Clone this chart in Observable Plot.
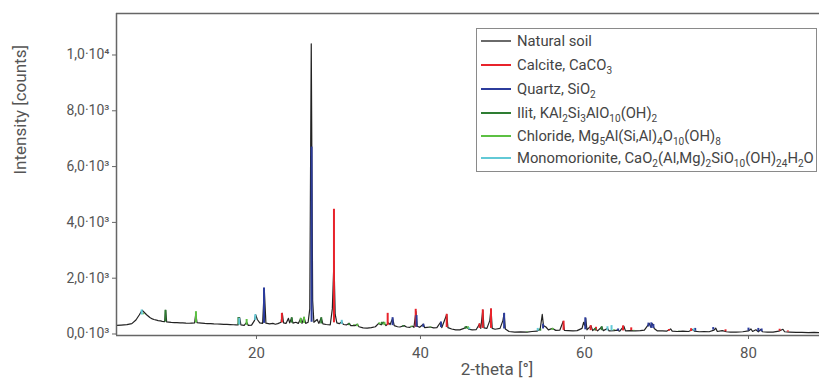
<!DOCTYPE html>
<html><head><meta charset="utf-8">
<script src="https://cdn.jsdelivr.net/npm/d3@7"></script>
<script src="https://cdn.jsdelivr.net/npm/@observablehq/plot@0.6"></script>
<style>
body{margin:0;background:#fff;font-family:Roboto,"Noto Sans",sans-serif}
#wrap{position:relative;width:819px;height:385px}
#legend{position:absolute;left:476px;top:28px;width:341px;height:144px;border:1.5px solid #8a8a8a;background:#fff;box-sizing:border-box}
.row{position:absolute;left:0;height:20px;display:flex;align-items:center;font-size:14.8px;color:#444;white-space:nowrap}
.sw{width:30px;height:0;border-top:2px solid;margin-left:4px;margin-right:6px}
sub{font-size:0.68em;vertical-align:-0.35em;line-height:0}
</style></head><body><div id="wrap"><div id="legend"></div></div>
<script>
// ---- data ----
const seriesNames = ["Natural soil","Calcite, CaCO<sub>3</sub>","Quartz, SiO<sub>2</sub>",
  "Ilit, KAl<sub>2</sub>Si<sub>3</sub>AlO<sub>10</sub>(OH)<sub>2</sub>",
  "Chloride, Mg<sub>5</sub>Al(Si,Al)<sub>4</sub>O<sub>10</sub>(OH)<sub>8</sub>",
  "Monomorionite, CaO<sub>2</sub>(Al,Mg)<sub>2</sub>SiO<sub>10</sub>(OH)<sub>24</sub>H<sub>2</sub>O"];
const seriesColors = ["#6a6a6a","#e8232b","#2c3c9c","#2e7d32","#5cc043","#62c9d6"];
const yTicks = [0,2000,4000,6000,8000,10000];
const yTickLabels = ["0,0·10³","2,0·10³","4,0·10³","6,0·10³","8,0·10³","1,0·10⁴"];
const xTicks = [20,40,60,80];

// natural soil pattern [2-theta, counts]
const soil = [[2.95,310],[3.5,320],[4.2,335],[4.8,370],[5.3,500],[5.7,680],[6.05,850],[6.3,780],[6.6,690],[7.0,590],[7.3,540],[7.5,520],[7.8,500],[8.0,480],[8.3,470],[8.5,455],[8.8,440],[8.92,850],[9.05,430],[9.3,425],[9.6,415],[10.0,410],[10.3,405],[10.7,400],[11.0,398],[11.4,390],[11.8,385],[12.1,390],[12.45,395],[12.6,720],[12.75,410],[13.0,395],[13.3,390],[13.7,380],[14.0,375],[14.4,370],[14.8,362],[15.2,358],[15.6,352],[16.0,348],[16.4,342],[16.8,336],[17.2,332],[17.5,328],[17.75,322],[17.95,590],[18.1,325],[18.5,312],[18.8,420],[19.0,310],[19.4,320],[19.75,480],[19.9,690],[20.1,520],[20.4,400],[20.75,380],[20.95,1620],[21.15,390],[21.6,365],[22.0,380],[22.3,350],[22.6,370],[23.0,420],[23.15,740],[23.3,400],[23.6,380],[23.9,560],[24.05,400],[24.3,580],[24.45,390],[24.8,420],[25.1,380],[25.4,560],[25.55,380],[25.8,600],[26.0,380],[26.3,420],[26.5,900],[26.68,10400],[26.85,1200],[27.0,420],[27.4,520],[27.6,380],[27.9,580],[28.1,360],[28.5,340],[29.0,330],[29.25,900],[29.45,2620],[29.6,700],[29.8,400],[30.1,370],[30.4,440],[30.6,340],[31.0,330],[31.3,380],[31.5,300],[32.0,300],[32.3,350],[32.5,260],[33.0,220],[33.5,210],[34.0,230],[34.5,260],[34.9,380],[35.2,330],[35.5,420],[35.8,300],[36.1,400],[36.3,340],[36.6,560],[36.8,300],[37.2,260],[37.5,250],[38.0,300],[38.3,250],[38.7,240],[39.0,280],[39.2,240],[39.45,800],[39.6,280],[39.9,240],[40.35,350],[40.5,230],[40.8,240],[41.2,250],[41.6,220],[42.0,230],[42.45,420],[42.6,230],[43.2,700],[43.35,230],[43.8,180],[44.3,150],[44.8,150],[45.3,200],[45.6,260],[45.9,170],[46.3,150],[46.8,160],[47.2,360],[47.35,200],[47.6,860],[47.75,220],[48.1,200],[48.45,480],[48.6,890],[48.75,200],[49.1,170],[49.7,200],[50.05,480],[50.2,740],[50.35,180],[50.8,90],[51.5,70],[52.2,75],[53.0,70],[53.6,90],[54.2,100],[54.6,180],[54.85,700],[55.0,300],[55.3,250],[55.6,150],[56.1,200],[56.5,130],[57.0,140],[57.4,450],[57.55,130],[58.0,120],[58.6,110],[59.1,120],[59.7,200],[59.9,420],[60.05,300],[60.15,560],[60.3,150],[60.8,290],[61.0,120],[61.3,200],[61.6,110],[62.1,250],[62.3,120],[62.8,200],[63.0,110],[63.6,120],[64.0,140],[64.3,100],[64.8,280],[65.0,110],[65.6,120],[66.2,110],[66.8,120],[67.3,140],[67.7,300],[67.9,380],[68.1,250],[68.3,370],[68.5,200],[68.9,110],[69.5,110],[70.0,100],[70.5,180],[70.7,100],[71.3,90],[72.0,100],[72.7,90],[73.2,160],[73.4,100],[74.0,80],[74.6,90],[75.2,80],[75.8,140],[76.0,210],[76.2,90],[76.8,120],[77.3,80],[77.8,70],[78.5,70],[79.3,80],[80.0,110],[80.3,180],[80.5,90],[80.9,150],[81.2,80],[81.5,160],[81.7,80],[82.3,70],[83.0,70],[83.7,100],[84.2,170],[84.4,80],[85.0,70],[85.8,60],[86.5,55],[87.3,50],[88.0,55],[88.7,50]];

// phase peaks [2-theta, top counts]
const calcite = [[23.1,740],[29.45,4470],[36.0,740],[39.42,885],[43.2,705],[47.2,365],[47.6,865],[48.6,900],[57.45,460],[60.75,300],[61.4,240],[64.7,290],[65.7,220],[70.3,160],[73.0,190],[77.2,150],[83.8,170],[84.8,110]];
const quartz = [[20.92,1650],[26.72,6700],[36.6,585],[39.52,660],[40.35,350],[42.5,430],[50.2,740],[54.95,350],[60.1,580],[64.1,180],[67.8,390],[68.15,400],[68.4,340],[73.5,200],[75.7,230],[80.0,210],[81.2,200],[81.6,180]];
const ilit = [[8.9,850],[17.8,590],[24.3,580],[27.9,580],[31.3,380],[35.3,420],[37.9,300],[45.5,260],[54.6,180],[61.3,200],[62.1,260]];
const chloride = [[6.2,730],[12.62,800],[18.8,520],[25.4,560],[25.8,600],[31.9,330],[32.3,350],[35.0,400],[35.6,420],[38.9,280],[41.2,250],[45.8,260],[53.0,90],[56.1,200],[63.6,150],[66.0,130],[71.5,100]];
const monomorionite = [[6.0,860],[17.9,560],[19.85,690],[30.4,490],[45.95,220],[54.3,200],[62.8,260],[63.3,300],[73.3,180]];

// ---- layout ----
const W = 819, H = 385;
const xDomain = [2.93, 88.66], yDomain = [-54, 11487];
const phases = [calcite, quartz, ilit, chloride, monomorionite];
function baseAt(x){
  const near = soil.filter(d => Math.abs(d[0]-x) < 0.4).map(d => d[1]);
  return near.length ? Math.min(...near) : 100;
}
const sticks = phases.flatMap((arr, i) => arr.map(d => ({x:d[0], y1:Math.min(baseAt(d[0]), d[1]), y2:d[1], c:seriesColors[i+1]})));

const gray = "#666";
const plot = Plot.plot({
  width: W, height: H,
  marginLeft: 116, marginRight: 0, marginTop: 13, marginBottom: 50,
  style: {fontFamily: "Roboto, 'Noto Sans', sans-serif", color: "#555", background: "transparent"},
  x: {domain: xDomain},
  y: {domain: yDomain},
  marks: [
    Plot.line(soil, {x: d => d[0], y: d => d[1], stroke: "#222", strokeWidth: 1.2}),
    Plot.ruleX(sticks, {x: "x", y1: "y1", y2: "y2", stroke: "c", strokeWidth: 2}),
    Plot.ruleY([yDomain[1]], {stroke: gray, strokeWidth: 1.5}),
    Plot.ruleY([yDomain[0]], {stroke: gray, strokeWidth: 1.5}),
    Plot.ruleX([xDomain[0]], {stroke: gray, strokeWidth: 1.5}),
    Plot.axisY({ticks: yTicks, tickFormat: (d) => yTickLabels[yTicks.indexOf(d)], tickSize: 4, tickPadding: 3, fontSize: 14, label: null, stroke: gray}),
    Plot.axisX({ticks: xTicks, tickSize: 4, tickPadding: 8, fontSize: 15, label: null, stroke: gray}),
    Plot.text(["Intensity [counts]"], {frameAnchor: "left", rotate: -90, dx: -96, fontSize: 17, fill: "#555"}),
    Plot.text(["2-theta [°]"], {frameAnchor: "bottom", dx: 29, dy: 39, fontSize: 17, fill: "#555"})
  ]
});
const wrap = document.getElementById("wrap");
wrap.insertBefore(plot, wrap.firstChild);

const legend = document.getElementById("legend");
const rowTops = [2, 26, 50, 74, 97, 119];
seriesNames.forEach((n, i) => {
  const r = document.createElement("div");
  r.className = "row";
  r.style.top = rowTops[i] + "px";
  r.innerHTML = `<span class="sw" style="border-color:${seriesColors[i]}"></span><span>${n}</span>`;
  legend.appendChild(r);
});
</script></body></html>
